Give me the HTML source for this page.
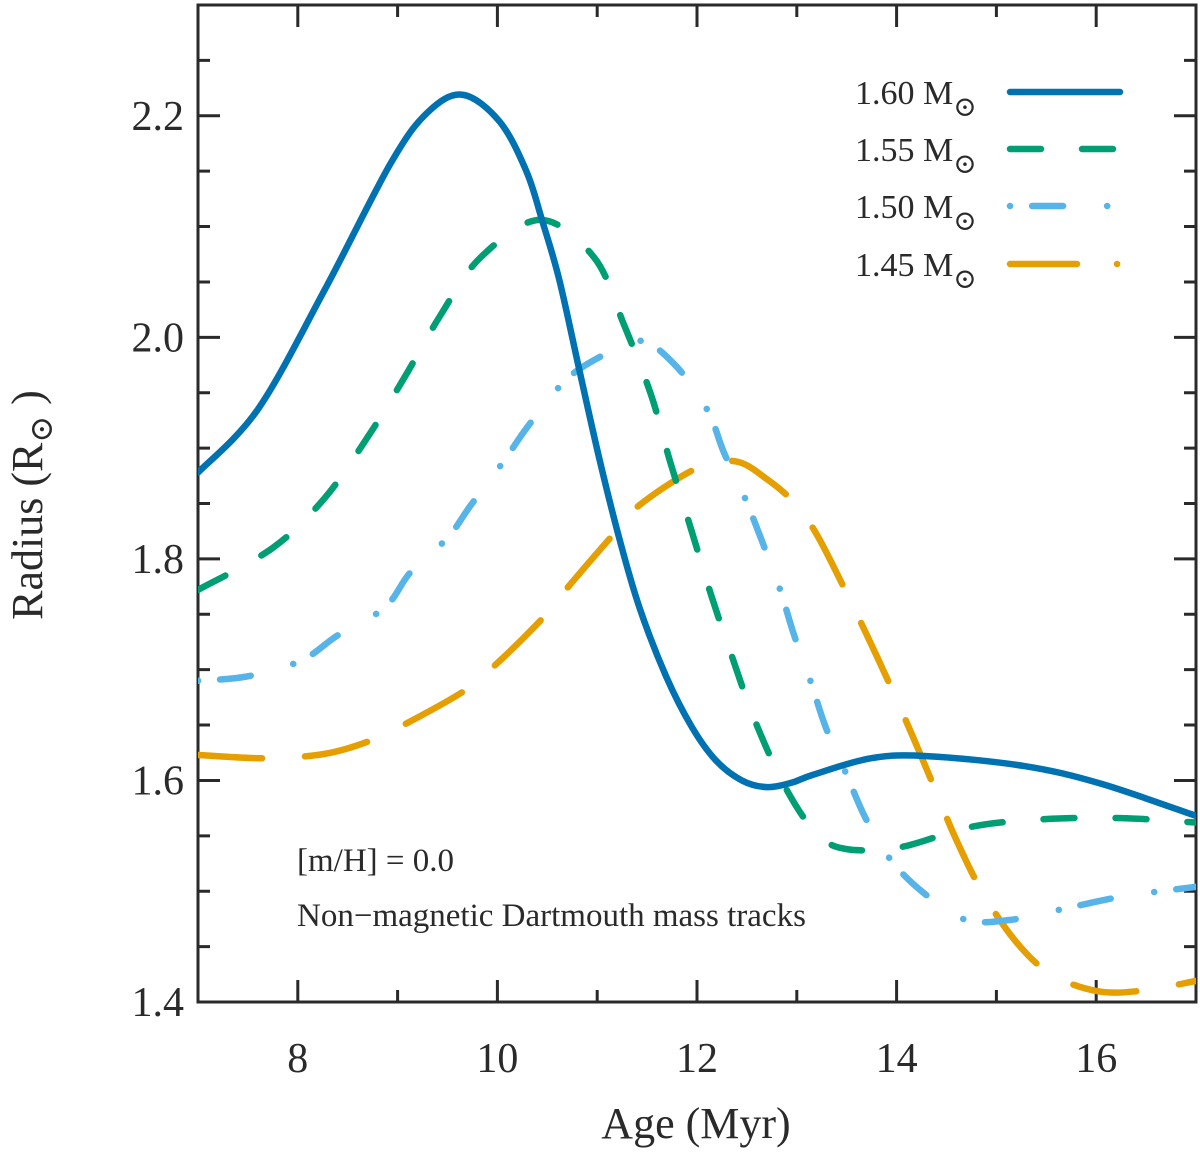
<!DOCTYPE html>
<html><head><meta charset="utf-8"><style>
body{margin:0;background:#fff}
svg, svg text{font-family:"Liberation Serif","Times New Roman","DejaVu Serif",serif}
svg text{fill:#2a2a2a}
</style></head><body>
<svg id="chart" width="1200" height="1151" viewBox="0 0 1200 1151" xmlns="http://www.w3.org/2000/svg" font-family="Liberation Serif, DejaVu Serif, serif">
<g id="axes"></g>
<g id="series"></g>
<g id="legend"></g>
<text x="297" y="871" font-size="33">[m/H] = 0.0</text>
<text x="297" y="926" font-size="33">Non−magnetic Dartmouth mass tracks</text>
<text x="696" y="1138" font-size="44" text-anchor="middle">Age (Myr)</text>
<text transform="translate(42,505) rotate(-90)" font-size="44" text-anchor="middle">Radius (R<tspan font-size="32" dy="10">⊙</tspan><tspan dy="-10"> )</tspan></text>
</svg>
<script>
const xTicks=[8,10,12,14,16];
const yTicks=[1.4,1.6,1.8,2.0,2.2];
const seriesNames=["1.60","1.55","1.50","1.45"];
const ages160=[7,7.6,8.27,8.93,9.3,9.65,10.02,10.29,10.45,10.62,10.82,11.02,11.22,11.42,11.69,11.95,12.19,12.45,12.7,12.95,13.16,13.74,14.3,15.28,16.05,17];
const rad160=[1.878,1.935,2.043,2.157,2.203,2.219,2.195,2.150,2.105,2.052,1.971,1.891,1.819,1.757,1.694,1.648,1.618,1.600,1.594,1.598,1.605,1.620,1.622,1.613,1.597,1.568];
const ages155=[7,7.75,8.27,8.7,9.07,9.43,9.83,10.43,10.97,11.27,11.54,11.73,11.94,12.15,12.35,12.58,12.89,13.2,13.5,14.05,14.74,15.47,16.25,17];
const rad155=[1.772,1.81,1.855,1.91,1.964,2.02,2.072,2.106,2.072,2.011,1.948,1.888,1.827,1.765,1.712,1.654,1.593,1.552,1.538,1.54,1.558,1.565,1.566,1.562];
const ages150=[7,7.5,8.03,8.4,8.87,9.13,9.5,9.73,10.07,10.3,10.67,11.0,11.42,11.77,12.1,12.27,12.48,12.66,12.83,12.97,13.14,13.29,13.5,13.7,13.97,14.32,14.7,15.13,15.67,16.25,17];
const rad150=[1.690,1.694,1.708,1.731,1.756,1.788,1.819,1.848,1.889,1.919,1.96,1.981,1.997,1.976,1.935,1.896,1.855,1.814,1.773,1.732,1.689,1.648,1.605,1.564,1.525,1.495,1.474,1.474,1.484,1.495,1.504];
const ages145=[7,7.67,8.27,8.73,9.1,9.67,10.0,10.47,10.73,11.17,11.43,12.0,12.39,12.7,12.97,13.2,13.5,13.74,13.97,14.17,14.4,14.59,14.86,15.2,15.55,16.0,16.44,17];
const rad145=[1.623,1.620,1.624,1.636,1.652,1.681,1.706,1.748,1.777,1.823,1.849,1.882,1.888,1.872,1.851,1.822,1.769,1.724,1.679,1.638,1.589,1.548,1.499,1.454,1.425,1.41,1.41,1.419];

const X0=198,X1=1196,Y0=1002,Y1=5,xmin=7,xmax=17,ymin=1.4,ymax=2.3;
const sx=v=>X0+(v-xmin)/(xmax-xmin)*(X1-X0);
const sy=v=>Y0-(v-ymin)/(ymax-ymin)*(Y0-Y1);
const NS="http://www.w3.org/2000/svg";
function mk(tag,parent,attrs){const e=document.createElementNS(NS,tag);for(const k in attrs)e.setAttribute(k,attrs[k]);parent.appendChild(e);return e;}
const axes=document.getElementById('axes');
const frame=mk('rect',axes,{x:X0,y:Y1,width:X1-X0,height:Y0-Y1,fill:'none',stroke:'#2a2a2a','stroke-width':3});


for(let v=7;v<=17;v++){const major=xTicks.includes(v);const L=major?22:12;const x=sx(v);
 const t=mk('path',axes,{d:`M${x},${Y0}v${-L}M${x},${Y1}v${L}`,stroke:'#2a2a2a','stroke-width':3});
 
 }
xTicks.forEach(v=>{const t=mk('text',axes,{x:sx(v),y:1072,'font-size':42,'text-anchor':'middle'});t.textContent=v;
 
 });
for(let i=0;i<=18;i++){const v=1.4+i*0.05;const major=yTicks.some(t=>Math.abs(t-v)<1e-6);const L=major?22:12;const y=sy(v);
 const t=mk('path',axes,{d:`M${X0},${y}h${L}M${X1},${y}h${-L}`,stroke:'#2a2a2a','stroke-width':3});
 
 }
yTicks.forEach(v=>{const t=mk('text',axes,{x:184,y:sy(v)+14,'font-size':42,'text-anchor':'end'});t.textContent=v.toFixed(1);
 
 });

function smooth(xs,ys){const p=xs.map((a,i)=>[sx(a),sy(ys[i])]);let d=`M${p[0][0]},${p[0][1]}`;
 for(let i=0;i<p.length-1;i++){const p0=p[Math.max(0,i-1)],p1=p[i],p2=p[i+1],p3=p[Math.min(p.length-1,i+2)];
  const c1=[p1[0]+(p2[0]-p0[0])/6,p1[1]+(p2[1]-p0[1])/6],c2=[p2[0]-(p3[0]-p1[0])/6,p2[1]-(p3[1]-p1[1])/6];
  d+=`C${c1[0]},${c1[1]} ${c2[0]},${c2[1]} ${p2[0]},${p2[1]}`;}return d;}
const styles=[{c:'#0072b2',d:'none',l:'none'},{c:'#009e73',d:'31 41',l:'31 41'},{c:'#56b4e9',d:'0.1 22 31 44',l:'0.1 22 31 44'},{c:'#e69f00',d:'64 43',l:'67 40 0.1 40'}];
const data=[[ages160,rad160],[ages155,rad155],[ages150,rad150],[ages145,rad145]];
const ser=document.getElementById('series');
const clip=mk('clipPath',ser,{id:'clip'});mk('rect',clip,{x:X0,y:Y1,width:X1-X0,height:Y0-Y1});
const order=[3,2,1,0];
order.forEach(i=>{const p=mk('path',ser,{d:smooth(data[i][0],data[i][1]),fill:'none',stroke:styles[i].c,'stroke-width':6.5,'stroke-linecap':'round','stroke-dasharray':styles[i].d,'clip-path':'url(#clip)'});
 
 });
const leg=document.getElementById('legend');
const rowsY=[92,149,206,264];
seriesNames.forEach((n,i)=>{const g=mk('g',leg,{});
 
 
 const t=mk('text',g,{x:855,y:rowsY[i]+12,'font-size':34});t.innerHTML=n+' M<tspan font-size="28" dy="12">⊙</tspan>';
 mk('path',g,{d:`M1010,${rowsY[i]}H1120`,stroke:styles[i].c,'stroke-width':6.5,'stroke-linecap':'round','stroke-dasharray':styles[i].l,fill:'none'});});
</script>
</body></html>
